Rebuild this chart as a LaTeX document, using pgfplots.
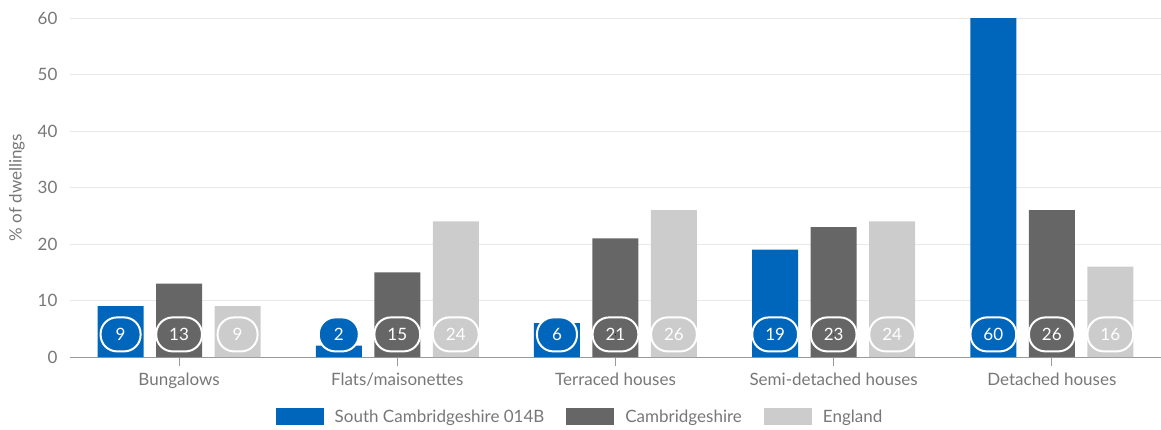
\documentclass[border=0pt]{standalone}
\usepackage{fontspec}
\setmainfont{Lato}
\usepackage{pgfplots}
\pgfplotsset{compat=1.18}
\definecolor{cblue}{HTML}{0066BB}
\definecolor{cdark}{HTML}{666666}
\definecolor{clight}{HTML}{CCCCCC}
\definecolor{ctext}{HTML}{777777}
\definecolor{cgrid}{HTML}{E8E8E8}
\definecolor{caxis}{HTML}{999999}
\newcommand{\lblfont}{\fontsize{17}{20}\selectfont}
\tikzset{badge/.style={text=white, draw=white, line width=2pt, rounded corners=16.5pt,
  minimum width=40pt, minimum height=34pt, inner xsep=13pt, inner ysep=0pt,
  font=\lblfont, anchor=center}}
\begin{document}
\begin{tikzpicture}[x=1pt,y=1pt]
\useasboundingbox (-70,-72) rectangle (1091,357);
\begin{axis}[
  at={(0,0)}, anchor=south west,
  scale only axis, width=1091pt, height=339pt,
  xmin=-0.5, xmax=4.5, ymin=0, ymax=60,
  xtick={0,...,4},
  xticklabels={Bungalows, Flats/maisonettes, Terraced houses, Semi-detached houses, Detached houses},
  ytick={0,10,...,60},
  ymajorgrids, grid style={cgrid, line width=1pt},
  axis lines*=left,
  y axis line style={draw=none},
  x axis line style={caxis, line width=1pt},
  ytick style={draw=none},
  xtick style={caxis, line width=1pt},
  major tick length=9pt, tick align=outside,
  /pgf/number format/assume math mode=true,
  yticklabel style={ctext, font=\lblfont},
  xticklabel style={ctext, font=\lblfont, yshift=-3pt},
  ylabel={\% of dwellings},
  every axis y label/.style={at={(axis description cs:0,0.5)}, rotate=90, anchor=center, yshift=53pt, ctext, font=\lblfont},
  legend style={at={(axis description cs:0.4675,-0.1755)}, anchor=center, draw=none, fill=none,
    legend columns=3, font=\lblfont, text=ctext,
    /tikz/every odd column/.append style={column sep=9pt},
    /tikz/every even column/.append style={column sep=20pt}},
  legend image code/.code={\path[#1,draw=none] (0pt,-8.5pt) rectangle (48pt,8.5pt);},
]
\addplot[ybar, bar width=46pt, bar shift=-58.5pt, fill=cblue, draw=none] coordinates {(0,9) (1,2) (2,6) (3,19) (4,60)};
\addplot[ybar, bar width=46pt, bar shift=0pt, fill=cdark, draw=none] coordinates {(0,13) (1,15) (2,21) (3,23) (4,26)};
\addplot[ybar, bar width=46pt, bar shift=58.5pt, fill=clight, draw=none] coordinates {(0,9) (1,24) (2,26) (3,24) (4,16)};
\legend{South Cambridgeshire 014B, Cambridgeshire, England}
\addplot[forget plot, only marks, mark=*, mark size=0.1pt, mark options={draw=none, fill=none},
  nodes near coords, point meta=explicit symbolic,
  nodes near coords style={badge, fill=cblue, xshift=-58.5pt}]
  table[meta=v] {x y v
0 4 9
1 4 2
2 4 6
3 4 19
4 4 60
};
\addplot[forget plot, only marks, mark=*, mark size=0.1pt, mark options={draw=none, fill=none},
  nodes near coords, point meta=explicit symbolic,
  nodes near coords style={badge, fill=cdark}]
  table[meta=v] {x y v
0 4 13
1 4 15
2 4 21
3 4 23
4 4 26
};
\addplot[forget plot, only marks, mark=*, mark size=0.1pt, mark options={draw=none, fill=none},
  nodes near coords, point meta=explicit symbolic,
  nodes near coords style={badge, fill=clight, xshift=58.5pt}]
  table[meta=v] {x y v
0 4 9
1 4 24
2 4 26
3 4 24
4 4 16
};
\end{axis}
\end{tikzpicture}
\end{document}
